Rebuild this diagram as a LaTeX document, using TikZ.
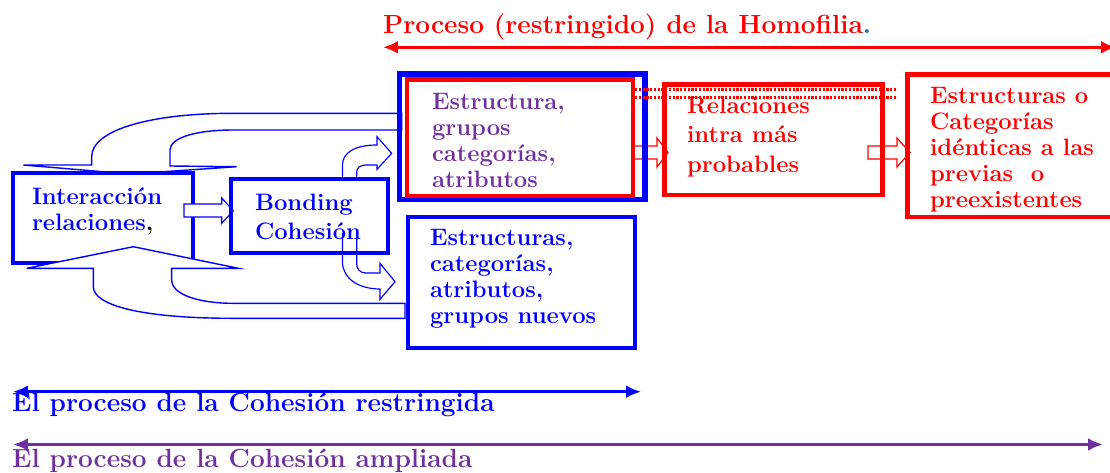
\documentclass[tikz,border=0pt]{standalone}
\usepackage{tikz}
\usetikzlibrary{arrows.meta}
\definecolor{hpurple}{HTML}{7030A0}
\definecolor{hpoint}{HTML}{0070C0}
\newlength\pxu
\setlength\pxu{0.03cm}
% box text: width, height, left pad, top pad, text
\newcommand\boxtext[5]{\parbox[c][#2\pxu][t]{#1\pxu}{\vspace*{#4\pxu}\raggedright\leftskip=#3\pxu\relax #5}}

\begin{document}
\begin{tikzpicture}[x=0.03cm, y=-0.03cm,
    % define styles
    panel/.style={
        draw,
        line width=3.6pt,
        inner sep=0pt,
        font=\fontsize{20.3}{22.2}\selectfont\bfseries
    },
    lbl/.style={
        inner sep=0pt,
        anchor=base west,
        font=\fontsize{22.4}{26}\selectfont\bfseries
    },
    uturn/.style={
        draw=blue,
        line width=1.2pt,
        fill=white
    },
    curlarrow/.style={
        draw=blue,
        line width=1pt
    },
    hollow/.style={
        line width=1pt
    },
    dotline/.style={
        red,
        line width=2.4pt,
        dash pattern=on 2pt off 1.2pt
    },
    rangearrow/.style={
        {Latex[length=12.8pt,width=11pt]}-{Latex[length=12.8pt,width=11pt]}
    }
]
\useasboundingbox (0,0) rectangle (1110,473);

% Feedback arrow from the upper structures (behind Interaccion)
\draw[uturn] (401.7,113.3) -- (233.3,113.3) .. controls (150,113.3) and (91.7,130) .. (91.7,156.7)
    -- (91.7,165) -- (23.3,165) -- (130,174) -- (236.7,166.7) -- (170,166) -- (170,150)
    .. controls (170,138) and (195,130) .. (233.3,130) -- (401.7,130) -- cycle;

\node[panel, draw=blue, fill=white, text=blue] (inter) at (103,218)
    {\boxtext{180}{90}{19}{15}{Interacción\\relaciones{\color{black},}}};

% Interaccion to Bonding
\draw[hollow, draw=blue, fill=white] (184,204) -- (221.7,204) -- (221.7,198) -- (233.3,210.7)
    -- (221.7,223.3) -- (221.7,217) -- (184,217) -- cycle;

% Feedback arrow from the new structures
\draw[uturn] (405,318.3) -- (233.3,318.3) .. controls (140,318.3) and (93.3,305) .. (93.3,286.7)
    -- (93.3,268.3) -- (26.7,268.3) -- (133.3,246.7) -- (238.3,268.3) -- (171.7,268.3) -- (171.7,280)
    .. controls (171.7,295) and (200,303.3) .. (233.3,303.3) -- (405,303.3) -- cycle;

% hollow red arrows
\draw[hollow, draw=red] (633,146) -- (657,146) -- (657,138) -- (668,152.5) -- (657,167)
    -- (657,159) -- (633,159) -- cycle;
\draw[hollow, draw=red] (868,146) -- (897,146) -- (897,138) -- (910,152.5) -- (897,167)
    -- (897,159) -- (868,159) -- cycle;

\node[panel, draw=blue, line width=3.8pt, text=blue, font=\fontsize{20.3}{24.8}\selectfont\bfseries] (bond) at (309.5,216)
    {\boxtext{157}{74}{24}{15}{Bonding\\Cohesión}};

\node[panel, draw=blue, line width=4.3pt, minimum width=7.365cm, minimum height=3.765cm] (estrb) at (522.25,136.75) {};
\node[panel, draw=red, text=hpurple] (estr) at (520,137.75)
    {\boxtext{226}{116.5}{25}{14}{Estructura,\\grupos\\categorías,\\atributos}};

\node[panel, draw=red, text=red, font=\fontsize{20.3}{25.2}\selectfont\bfseries] (rel) at (773.5,139.75)
    {\boxtext{218}{110.5}{22.5}{12}{Relaciones\\intra más\\probables}};

\node[panel, draw=red, text=red] (prev) at (1011.75,145.75)
    {\boxtext{208.5}{142.5}{22.5}{12.5}{Estructuras o\\Categorías\\idénticas a las\\previas~~o\\preexistentes}};

\node[panel, draw=blue, text=blue] (nuevo) at (521.5,282.5)
    {\boxtext{227}{131}{22}{12.7}{Estructuras,\\categorías,\\atributos,\\grupos nuevos}};

% dotted links
\coordinate (d1) at (700,89.3);
\coordinate (d2) at (700,97.3);
\draw[dotline] (estr.east |- d1) -- ([xshift=-7.3pt]prev.west |- d1);
\draw[dotline] (estr.east |- d2) -- ([xshift=-7.3pt]prev.west |- d2);

% Bonding to the structures
\draw[curlarrow] (342.5,176.7) -- (342.5,165) .. controls (342.5,152) and (356,145) .. (377,145)
    -- (377,136.7) -- (391.7,153.3) -- (377,169.3) -- (377,165) -- (366,165)
    .. controls (360,165) and (356.7,168) .. (356.7,172) -- (356.7,176.7);
\draw[curlarrow] (342.5,233) -- (342.5,262) .. controls (342.5,278) and (358,289) .. (380,289)
    -- (380,299.3) -- (395,281.7) -- (380,263.3) -- (380,273) -- (366,273)
    .. controls (360,273) and (356.7,269) .. (356.7,264) -- (356.7,233);

% process ranges
\coordinate (hl) at (383,47.3);
\coordinate (hr) at (1116,47.3);
\draw[rangearrow, red, line width=3pt] (hl) -- (hr);
\node[lbl, text=red] (homo) at (383,33.3) {Proceso (restringido) de la Homofilia\textcolor{hpoint}{.}};

\coordinate (cl) at (13,391.7);
\coordinate (cr) at (641,391.7);
\draw[rangearrow, blue, line width=2.2pt] (cl) -- (cr);
\node[lbl, text=blue] (restr) at (12,411) {El proceso de la Cohesión restringida};

\coordinate (al) at (13,444.5);
\coordinate (ar) at (1103,444.5);
\draw[rangearrow, hpurple, line width=2.6pt] (al) -- (ar);
\node[lbl, text=hpurple] (ampl) at (12,467) {El proceso de la Cohesión ampliada};
\end{tikzpicture}
\end{document}
